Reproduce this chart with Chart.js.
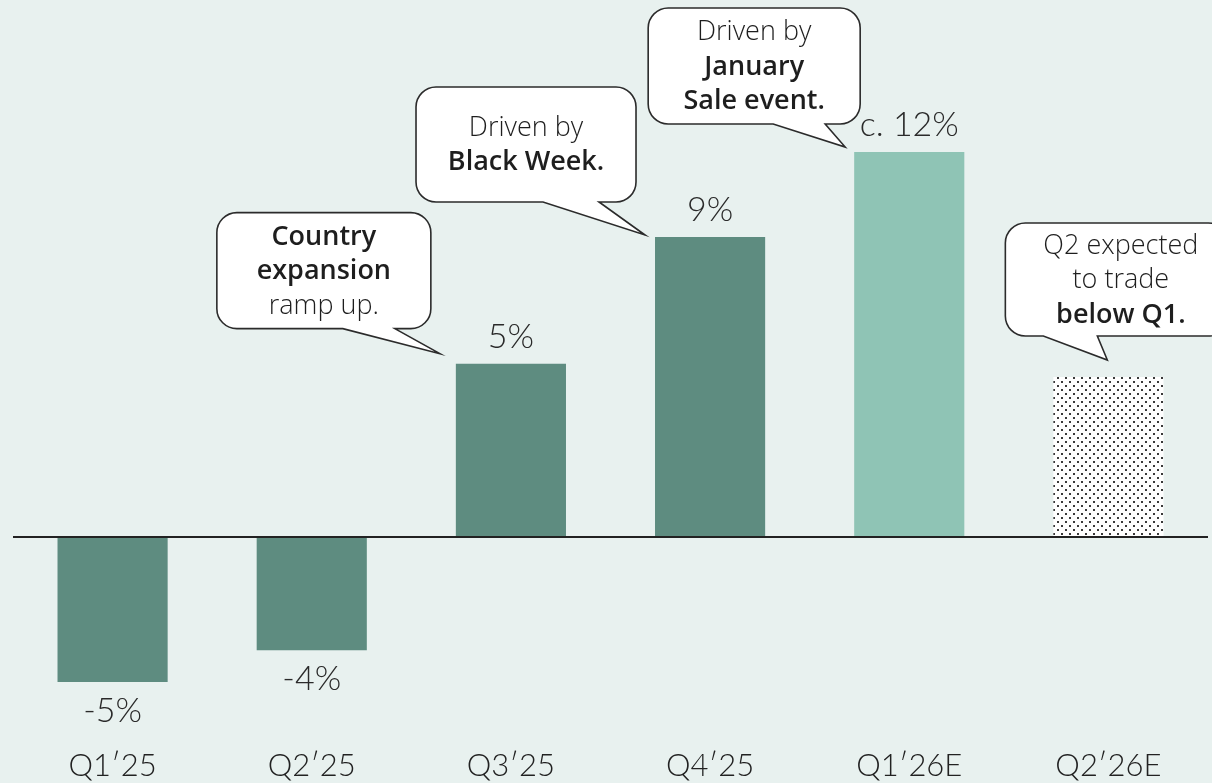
<!DOCTYPE html>
<html>
<head>
<meta charset="utf-8">
<script src="https://cdn.jsdelivr.net/npm/chart.js@4.4.1/dist/chart.umd.min.js"></script>
<style>
  html, body { margin: 0; padding: 0; background: #e8f1ef; }
  #wrap { width: 1212px; height: 783px; position: relative; }
</style>
</head>
<body>
<div id="wrap"><canvas id="chart"></canvas></div>
<script>
const quarters = ['Q1\u203225', 'Q2\u203225', 'Q3\u203225', 'Q4\u203225', 'Q1\u203226E', 'Q2\u203226E'];
const growth = [-4.35, -3.4, 5.2, 9.0, 11.55, 4.8];
const valueLabels = ['-5%', '-4%', '5%', '9%', 'c. 12%', ''];

// callout text: [text, bold]
const notes = [
  { bar: 2, lines: [['Country', true], ['expansion', true], ['ramp up.', false]] },
  { bar: 3, lines: [['Driven by', false], ['Black Week.', true]] },
  { bar: 4, lines: [['Driven by', false], ['January', true], ['Sale event.', true]] },
  { bar: 5, lines: [['Q2 expected', false], ['to trade', false], ['below Q1.', true]] }
];

// bubble geometry relative to the tail tip; tip relative to bar top-left corner
const bubbleShape = [
  { tip: [-16, -10], box: [-223, -9, -141, -25], tail: [-97, -45] },
  { tip: [-10, -2], box: [-229, -9, -148, -33], tail: [-102, -46] },
  { tip: [-9, -5], box: [-197, 15, -139, -23], tail: [-72, -20] },
  { tip: [54, -17], box: [-102, 121, -137, -24], tail: [-64, -10] }
];

const DARK = '#5e8c80';
const LIGHT = '#8fc4b5';
const labelFont = '300 34px Lato, "Liberation Sans", sans-serif';

function dotPattern() {
  const c = document.createElement('canvas');
  c.width = 8; c.height = 8;
  const g = c.getContext('2d');
  g.fillStyle = '#ffffff';
  g.fillRect(0, 0, 8, 8);
  g.fillStyle = '#3a3a3a';
  g.fillRect(1, 1, 2, 2);
  g.fillRect(5, 5, 2, 2);
  return g.createPattern(c, 'repeat');
}

const barColors = [DARK, DARK, DARK, DARK, LIGHT, dotPattern()];

const valueLabelPlugin = {
  id: 'valueLabels',
  afterDatasetsDraw(chart) {
    const ctx = chart.ctx;
    const meta = chart.getDatasetMeta(0);
    ctx.save();
    ctx.font = labelFont;
    ctx.fillStyle = '#2a2a2a';
    ctx.textAlign = 'center';
    ctx.textBaseline = 'middle';
    meta.data.forEach((bar, i) => {
      if (!valueLabels[i]) return;
      const y = growth[i] >= 0 ? bar.y - 27 : bar.y + 29;
      ctx.fillText(valueLabels[i], bar.x, y);
    });
    ctx.restore();
  }
};

function bubblePath(ctx, l, r, t, b, tl, tr, tip) {
  const rad = 20;
  ctx.beginPath();
  ctx.moveTo(l + rad, t);
  ctx.lineTo(r - rad, t);
  ctx.arcTo(r, t, r, t + rad, rad);
  ctx.lineTo(r, b - rad);
  ctx.arcTo(r, b, r - rad, b, rad);
  ctx.lineTo(tr, b);
  ctx.lineTo(tip[0], tip[1]);
  ctx.lineTo(tl, b);
  ctx.lineTo(l + rad, b);
  ctx.arcTo(l, b, l, b - rad, rad);
  ctx.lineTo(l, t + rad);
  ctx.arcTo(l, t, l + rad, t, rad);
  ctx.closePath();
}

const calloutPlugin = {
  id: 'callouts',
  afterDatasetsDraw(chart) {
    const ctx = chart.ctx;
    const meta = chart.getDatasetMeta(0);
    ctx.save();
    notes.forEach((note, k) => {
      const bar = meta.data[note.bar];
      const s = bubbleShape[k];
      const tx = bar.x - bar.width / 2 + s.tip[0];
      const ty = bar.y + s.tip[1];
      const l = tx + s.box[0], r = tx + s.box[1];
      const t = ty + s.box[2], b = ty + s.box[3];
      bubblePath(ctx, l, r, t, b, tx + s.tail[0], tx + s.tail[1], [tx, ty]);
      ctx.fillStyle = '#ffffff';
      ctx.fill();
      ctx.lineWidth = 1.6;
      ctx.strokeStyle = '#2b2b2b';
      ctx.stroke();

      const cx = (l + r) / 2 + (k === 3 ? 4 : 0);
      const cy = (t + b) / 2 + 1;
      const step = 34.5;
      const n = note.lines.length;
      ctx.textAlign = 'center';
      ctx.textBaseline = 'middle';
      ctx.fillStyle = '#1e1e1e';
      note.lines.forEach(([txt, bold], j) => {
        ctx.font = (bold ? '600' : '300') + ' 27px "Open Sans", Lato, sans-serif';
        ctx.fillText(txt, cx, cy + (j - (n - 1) / 2) * step);
      });
    });
    ctx.restore();
  }
};

new Chart(document.getElementById('chart'), {
  type: 'bar',
  data: {
    labels: quarters,
    datasets: [{
      data: growth,
      backgroundColor: barColors,
      borderWidth: 0,
      barPercentage: 0.553,
      categoryPercentage: 1
    }]
  },
  options: {
    responsive: true,
    maintainAspectRatio: false,
    animation: false,
    layout: { padding: { left: 13, right: 4, top: 37, bottom: 0 } },
    plugins: { legend: { display: false }, tooltip: { enabled: false } },
    scales: {
      x: {
        grid: { display: false, drawTicks: false },
        border: { display: false },
        ticks: {
          color: '#222222',
          padding: 10,
          font: { family: 'Lato, "Liberation Sans", sans-serif', size: 31, weight: '300', lineHeight: 1.2 }
        },
        afterFit(scale) { scale.height = 46; }
      },
      y: {
        min: -6,
        max: 15,
        ticks: { display: false, stepSize: 1 },
        border: { display: false },
        grid: {
          drawTicks: false,
          lineWidth: 2,
          color: c => (c.tick && c.tick.value === 0 ? '#222222' : 'rgba(0,0,0,0)')
        }
      }
    }
  },
  plugins: [valueLabelPlugin, calloutPlugin]
});
</script>
</body>
</html>
